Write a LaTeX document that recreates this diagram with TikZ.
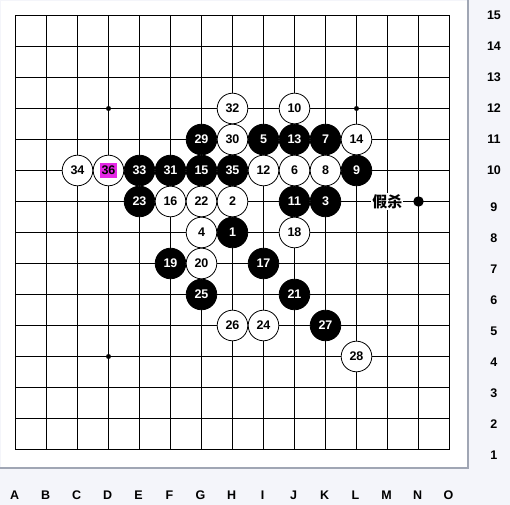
\documentclass[tikz,border=0pt]{standalone}
\usepackage{fontspec}
\setmainfont{Liberation Sans}
\newfontfamily\cjk{Noto Sans CJK SC}
\usetikzlibrary{positioning}
\definecolor{panelbg}{RGB}{244,245,250}
\definecolor{panelrim}{RGB}{160,166,180}
\definecolor{hilite}{RGB}{230,40,230}

\begin{document}
\begin{tikzpicture}[
    x=31pt, y=31pt,
    gridline/.style={line width=1pt, black, line cap=rect},
    wstone/.style={circle, draw, line width=0.8pt, fill=white, minimum size=30.6pt, inner sep=0pt, font=\bfseries\fontsize{12.5}{12.5}\selectfont},
    bstone/.style={wstone, fill=black, text=white},
    coordlbl/.style={font=\bfseries\fontsize{12.5}{12.5}\selectfont},
    starpt/.style={circle, fill=black, minimum size=5pt, inner sep=0pt},
]
\useasboundingbox[fill=panelbg] (-0.5,14.5) rectangle (15.952,-1.790);
\fill[white] (-0.468,14.468) rectangle (14.613,-0.613);
\draw[panelrim, line width=2pt] (14.613,14.5) -- (14.613,-0.613) -- (-0.5,-0.613);

\foreach \i in {0,...,14} {
    \draw[gridline] (\i,0) -- (\i,14);
    \draw[gridline] (0,\i) -- (14,\i);
}
\foreach \p/\x/\y in {d12/3/11, l12/11/11, d4/3/3, l4/11/3, h8/7/7}
    \node[starpt] (star\p) at (\x,\y) {};

\foreach \n/\x/\y in {1/7/7, 3/10/8, 5/8/10, 7/10/10, 9/11/9, 11/9/8, 13/9/10, 15/6/9, 17/8/6,
    19/5/6, 21/9/5, 23/4/8, 25/6/5, 27/10/4, 29/6/10, 31/5/9, 33/4/9, 35/7/9}
    \node[bstone] (m\n) at (\x,\y) {\n};
\foreach \n/\x/\y in {2/7/8, 4/6/7, 6/9/9, 8/10/9, 10/9/11, 12/8/9, 14/11/10, 16/5/8, 18/9/7,
    20/6/6, 22/6/8, 24/8/4, 26/7/4, 28/11/3, 30/7/10, 32/7/11, 34/2/9}
    \node[wstone] (m\n) at (\x,\y) {\n};
\node[wstone] (m36) at (3,9) {};
\node[fill=hilite, inner xsep=1.5pt, minimum height=13pt, font=\bfseries\fontsize{12.5}{12.5}\selectfont] (m36num) at (m36) {36};

\node[fill=white, inner sep=1pt, font=\cjk\bfseries\fontsize{15}{15}\selectfont] (fake) at (12,8) {假杀};
\node[circle, fill=black, minimum size=10.5pt, inner sep=0pt] (fakept) at (13,8) {};

\foreach \r in {10,...,15}
    \node[coordlbl] (row\r) at (15.435,\r-1) {\r};
\foreach \r in {1,...,9}
    \node[coordlbl] (row\r) at (15.435,\r-1.177) {\r};
\foreach \c [count=\i from 0] in {A,B,C,D,E,F,G,H,I,J,K,L,M,N,O}
    \node[coordlbl] (col\c) at (\i-0.03,-1.468) {\c};
\end{tikzpicture}
\end{document}
